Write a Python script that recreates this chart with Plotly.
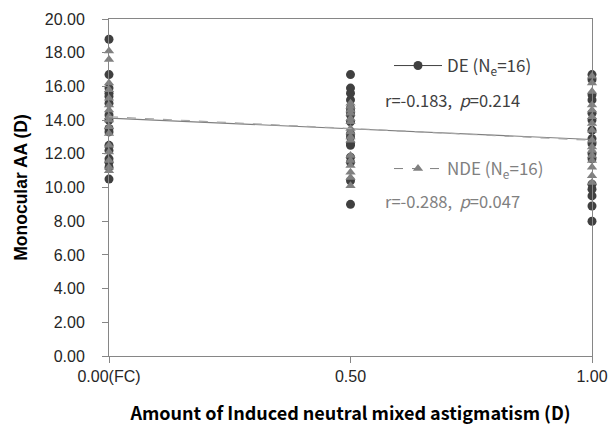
import plotly.graph_objects as go

# ---- data ----
x_levels = [0.0, 0.5, 1.0]
x_ticktext = ["0.00(FC)", "0.50", "1.00"]

de_x0 = [18.8, 16.7, 15.9, 15.6, 15.4, 15.0, 14.3, 14.0, 13.5, 13.3, 12.5, 12.2, 11.7, 11.5, 11.2, 10.5]
de_x05 = [16.7, 15.9, 15.6, 15.2, 14.7, 14.5, 14.3, 13.9, 13.2, 13.0, 12.6, 12.5, 11.8, 11.5, 10.4, 9.0]
de_x1 = [16.7, 16.4, 15.5, 15.2, 14.4, 14.0, 13.4, 12.9, 12.6, 12.0, 11.7, 10.2, 9.9, 9.5, 8.9, 8.0]

nde_x0 = [18.1, 17.6, 16.2, 15.8, 15.3, 14.9, 14.6, 14.2, 14.0, 13.6, 13.2, 12.5, 12.1, 11.6, 11.2, 11.0]
nde_x05 = [15.0, 14.8, 14.6, 14.4, 14.1, 13.9, 13.5, 13.3, 13.0, 12.8, 11.9, 11.6, 11.3, 10.9, 10.6, 10.1]
nde_x1 = [16.6, 16.2, 15.7, 14.9, 14.6, 14.2, 13.8, 13.4, 12.8, 12.4, 12.2, 11.9, 11.6, 11.2, 10.7, 10.3]

trend_x = [0.0, 1.0]
de_trend = [14.12, 12.85]
nde_trend = [14.20, 12.80]

de_label = "DE (N<sub>e</sub>=16)"
nde_label = "NDE (N<sub>e</sub>=16)"
de_stats = "r=-0.183,  <i>p</i>=0.214"
nde_stats = "r=-0.288,  <i>p</i>=0.047"

DE_COLOR = "#404040"
NDE_COLOR = "#808080"
KR = "Noto Sans CJK KR"
SANS = "Liberation Sans"


def flatten(groups):
    xs, ys = [], []
    for xv, vals in zip(x_levels, groups):
        xs += [xv] * len(vals)
        ys += vals
    return xs, ys


de_xs, de_ys = flatten([de_x0, de_x05, de_x1])
nde_xs, nde_ys = flatten([nde_x0, nde_x05, nde_x1])

fig = go.Figure()
fig.add_trace(go.Scatter(x=de_xs, y=de_ys, mode="markers", showlegend=False, cliponaxis=False,
                         marker=dict(symbol="circle", size=9, color=DE_COLOR)))
fig.add_trace(go.Scatter(x=nde_xs, y=nde_ys, mode="markers", showlegend=False, cliponaxis=False,
                         marker=dict(symbol="triangle-up", size=9, color=NDE_COLOR)))
fig.add_trace(go.Scatter(x=trend_x, y=de_trend, mode="lines", showlegend=False,
                         line=dict(color="#7f7f7f", width=1.2)))
fig.add_trace(go.Scatter(x=trend_x, y=nde_trend, mode="lines", showlegend=False,
                         line=dict(color="#a6a6a6", width=1.2, dash="dash")))

# legend entries (separate legends to mimic the text-box layout)
fig.add_trace(go.Scatter(x=[None], y=[None], mode="lines+markers", name=de_label,
                         legend="legend",
                         line=dict(color=DE_COLOR, width=1),
                         marker=dict(symbol="circle", size=9, color=DE_COLOR)))
fig.add_trace(go.Scatter(x=[None], y=[None], mode="lines+markers", name=nde_label,
                         legend="legend2",
                         line=dict(color=NDE_COLOR, width=1, dash="dash"),
                         marker=dict(symbol="triangle-up", size=9, color=NDE_COLOR)))

W, H = 610, 426
L, R, T, B = 109, 18, 19, 70


def px_x(p):
    return (p - L) / (W - L - R)


def px_y(p):
    return 1 - (p - T) / (H - T - B)


fig.update_layout(
    width=W, height=H,
    margin=dict(l=L, r=R, t=T, b=B),
    paper_bgcolor="white", plot_bgcolor="white",
    font=dict(family=SANS, size=16, color="#262626"),
    legend=dict(x=px_x(389), y=px_y(48), xanchor="left", yanchor="top",
                bgcolor="rgba(0,0,0,0)", font=dict(family=KR, size=17, color=DE_COLOR),
                itemwidth=48),
    legend2=dict(x=px_x(389), y=px_y(151), xanchor="left", yanchor="top",
                 bgcolor="rgba(0,0,0,0)", font=dict(family=KR, size=17, color=NDE_COLOR),
                 itemwidth=48),
    annotations=[
        dict(x=px_x(383), y=px_y(100), xref="paper", yref="paper", text=de_stats,
             showarrow=False, xanchor="left", yanchor="middle",
             font=dict(family=KR, size=16.5, color=DE_COLOR)),
        dict(x=px_x(383), y=px_y(201), xref="paper", yref="paper", text=nde_stats,
             showarrow=False, xanchor="left", yanchor="middle",
             font=dict(family=KR, size=16.5, color=NDE_COLOR)),
    ],
    xaxis=dict(range=[0, 1], tickvals=x_levels, ticktext=x_ticktext,
               showgrid=False, zeroline=False, automargin=False,
               showline=True, linecolor="#868686", linewidth=1, mirror=True,
               ticks="outside", ticklen=6, tickcolor="#868686",
               tickfont=dict(family=SANS, size=16, color="#262626"),
               title=dict(text="<b>Amount of Induced neutral mixed astigmatism (D)</b>",
                          font=dict(family=KR, size=18, color="#000000"), standoff=23)),
    yaxis=dict(range=[0, 20], dtick=2, tickformat=".2f",
               showgrid=False, zeroline=False, automargin=False,
               showline=True, linecolor="#868686", linewidth=1, mirror=True,
               ticks="outside", ticklen=6, tickcolor="#868686",
               ticklabelstandoff=14,
               tickfont=dict(family=SANS, size=16, color="#262626"),
               title=dict(text="<b>Monocular AA (D)</b>",
                          font=dict(family=SANS, size=17.5, color="#000000"),
                          standoff=12)),
)

fig.write_html("out.html", config={"displayModeBar": False},
               post_script="document.body.style.margin='0px';")
